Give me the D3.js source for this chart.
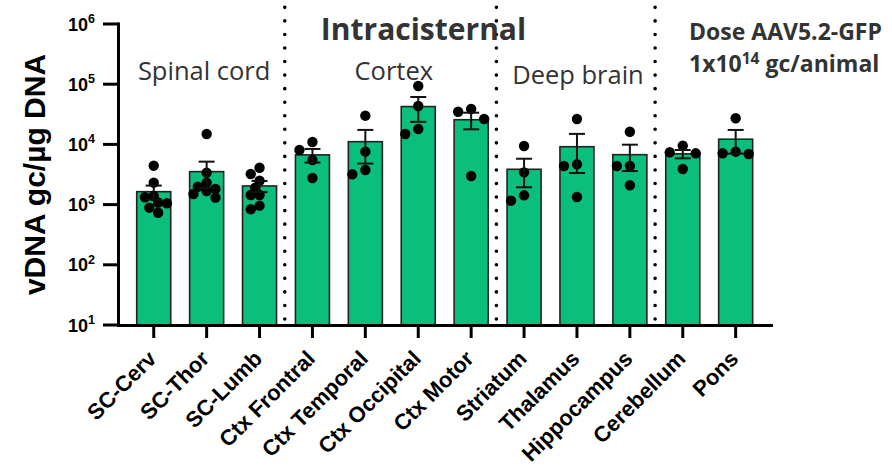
<!DOCTYPE html>
<html>
<head>
<meta charset="utf-8">
<script src="https://cdn.jsdelivr.net/npm/d3@7"></script>
<style>
  html, body { margin: 0; padding: 0; background: #fff; }
  svg { display: block; }
</style>
</head>
<body>
<svg id="chart" width="892" height="465"></svg>
<script>
// ---------- data ----------
const categories = ["SC-Cerv", "SC-Thor", "SC-Lumb", "Ctx Frontral", "Ctx Temporal", "Ctx Occipital", "Ctx Motor", "Striatum", "Thalamus", "Hippocampus", "Cerebellum", "Pons"];
const means = [1640, 3530, 2040, 6700, 11100, 42500, 25700, 3860, 9150, 6750, 6970, 12200];
const sems = [430, 1640, 430, 1700, 6300, 18800, 7900, 1920, 5800, 3140, 1100, 5180];
const individual = [
  [4430, 2312, 1390, 1322, 1076, 1052, 889, 733],
  [14900, 3390, 2312, 1982, 1815, 1682, 1500, 1303],
  [4100, 3220, 2494, 1910, 1443, 1443, 960, 836],
  [10960, 8070, 5510, 2767],
  [30000, 7570, 3758, 3184],
  [93300, 43450, 18030, 14900],
  [38700, 34900, 26400, 2985],
  [9400, 3435, 1427, 1161],
  [26400, 4670, 4375, 1337],
  [16250, 4375, 4375, 2094],
  [9510, 7390, 7110, 3900],
  [27170, 7570, 7110, 6920]
];
const yTickValues = [1e1, 1e2, 1e3, 1e4, 1e5, 1e6];
const yTickExponents = ["1", "2", "3", "4", "5", "6"];
const regionNames = ["Spinal cord", "Cortex", "Deep brain"];
const regionFirst = ["SC-Cerv", "Ctx Frontral", "Striatum"];
const regionLast = ["SC-Lumb", "Ctx Motor", "Hippocampus"];
const separatorsAfter = ["SC-Lumb", "Ctx Motor", "Hippocampus"];
const titleText = "Intracisternal";
const yTitle = "vDNA gc/µg DNA";
const doseLine1 = "Dose AAV5.2-GFP";
const doseLine2 = ["1x10", "14", " gc/animal"];

// ---------- layout ----------
const svg = d3.select("#chart");
const green = "#0abf7c";
const x = d3.scaleBand().domain(categories).range([119, 770.4]).paddingInner(0.357).paddingOuter(0.335);
const y = d3.scaleLog().domain([10, 1e6]).range([325, 24]);
const cx = c => x(c) + x.bandwidth() / 2;

// dotted separators
separatorsAfter.forEach(c => {
  const i = categories.indexOf(c);
  const xs = (cx(categories[i]) + cx(categories[i + 1])) / 2 - 1.2;
  svg.append("line")
    .attr("x1", xs).attr("x2", xs).attr("y1", 319).attr("y2", 0)
    .attr("stroke", "#000").attr("stroke-width", 3.6)
    .attr("stroke-linecap", "round").attr("stroke-dasharray", "0 13.55");
});

// bars
svg.append("g").selectAll("rect").data(categories).join("rect")
  .attr("x", c => x(c)).attr("width", x.bandwidth())
  .attr("y", (c, i) => y(means[i])).attr("height", (c, i) => y(10) - y(means[i]))
  .attr("fill", green).attr("stroke", "#222").attr("stroke-width", 1.6);

// points, spread on lanes to avoid overlap (scatter-dot-plot style)
const R = 5.2;
const ptG = svg.append("g");
categories.forEach((c, i) => {
  const n = individual[i].length;
  const lane = n > 4 ? 4.4 : 13;
  const D = n > 4 ? 8 : 10.5;
  const lanes = [0];
  for (let k = 1; k <= 6; k++) lanes.push(-k * lane, k * lane);
  const pts = individual[i].map(v => ({ v, py: y(v) })).sort((a, b) => a.py - b.py);
  const placed = [];
  pts.forEach(p => {
    let chosen = lanes.find(l => placed.every(q => (l - q.dx) ** 2 + (p.py - q.py) ** 2 >= D * D));
    if (chosen === undefined) chosen = 0;
    p.dx = chosen;
    placed.push(p);
  });
  ptG.selectAll(null).data(placed).join("circle")
    .attr("cx", p => cx(c) + p.dx).attr("cy", p => p.py).attr("r", R).attr("fill", "#000");
});

// error bars
const eb = svg.append("g").attr("stroke", "#111").attr("stroke-width", 2);
categories.forEach((c, i) => {
  const hi = y(means[i] + sems[i]), lo = y(Math.max(means[i] - sems[i], 11));
  const xc = cx(c), w = 8;
  eb.append("line").attr("x1", xc).attr("x2", xc).attr("y1", hi).attr("y2", lo);
  eb.append("line").attr("x1", xc - w).attr("x2", xc + w).attr("y1", hi).attr("y2", hi);
  eb.append("line").attr("x1", xc - w).attr("x2", xc + w).attr("y1", lo).attr("y2", lo);
});

// y axis
const yAxis = svg.append("g");
yAxis.append("line").attr("x1", 118.5).attr("x2", 118.5).attr("y1", y(1e6) - 1.5).attr("y2", 327)
  .attr("stroke", "#000").attr("stroke-width", 3);
yTickValues.forEach((v, i) => {
  yAxis.append("line").attr("x1", 103).attr("x2", 118.5).attr("y1", y(v)).attr("y2", y(v))
    .attr("stroke", "#000").attr("stroke-width", 3);
  const t = yAxis.append("text").attr("x", 95).attr("y", y(v) + 6.5)
    .attr("text-anchor", "end")
    .attr("font-family", "'Liberation Sans', Arial, sans-serif").attr("font-weight", "bold")
    .attr("font-size", 18).attr("fill", "#000");
  t.append("tspan").text("10");
  t.append("tspan").attr("dy", -7.5).attr("font-size", 12.5).text(yTickExponents[i]);
});
svg.append("text")
  .attr("transform", `translate(45,${(y(1e6) + y(10)) / 2}) rotate(-90)`)
  .attr("text-anchor", "middle")
  .attr("font-family", "'Liberation Sans', Arial, sans-serif").attr("font-weight", "bold")
  .attr("font-size", 30).attr("fill", "#000").text(yTitle);

// x axis
const xAxis = svg.append("g");
xAxis.append("line").attr("x1", 117).attr("x2", 773).attr("y1", 325.5).attr("y2", 325.5)
  .attr("stroke", "#000").attr("stroke-width", 3);
categories.forEach(c => {
  xAxis.append("line").attr("x1", cx(c)).attr("x2", cx(c)).attr("y1", 325.5).attr("y2", 338)
    .attr("stroke", "#000").attr("stroke-width", 3);
  xAxis.append("text")
    .attr("transform", `translate(${cx(c) + 4},${360}) rotate(-45)`)
    .attr("text-anchor", "end")
    .attr("font-family", "'Liberation Sans', Arial, sans-serif").attr("font-weight", "bold")
    .attr("font-size", 22).attr("fill", "#000").text(c);
});

// titles
svg.append("text").attr("x", 423.5).attr("y", 40).attr("text-anchor", "middle")
  .attr("font-family", "'Open Sans', sans-serif").attr("font-weight", "bold")
  .attr("font-size", 30).attr("fill", "#333").text(titleText);

const regionY = [80, 79.5, 83.5];
const regionShift = [-2.5, 2, 1];
regionNames.forEach((n, i) => {
  const xc = (cx(regionFirst[i]) + cx(regionLast[i])) / 2 + regionShift[i];
  svg.append("text").attr("x", xc).attr("y", regionY[i]).attr("text-anchor", "middle")
    .attr("font-family", "'Open Sans', sans-serif").attr("font-weight", 400)
    .attr("font-size", 25.5).attr("fill", "#333").text(n);
});

svg.append("text").attr("x", 689).attr("y", 40)
  .attr("font-family", "'Open Sans', sans-serif").attr("font-weight", "bold")
  .attr("font-size", 23).attr("fill", "#333").text(doseLine1);
const d2 = svg.append("text").attr("x", 689).attr("y", 71.5)
  .attr("font-family", "'Open Sans', sans-serif").attr("font-weight", "bold")
  .attr("font-size", 23).attr("fill", "#333");
d2.append("tspan").text(doseLine2[0]);
d2.append("tspan").attr("dy", -8).attr("font-size", 15.5).text(doseLine2[1]);
d2.append("tspan").attr("dy", 8).text(doseLine2[2]);
</script>
</body>
</html>
